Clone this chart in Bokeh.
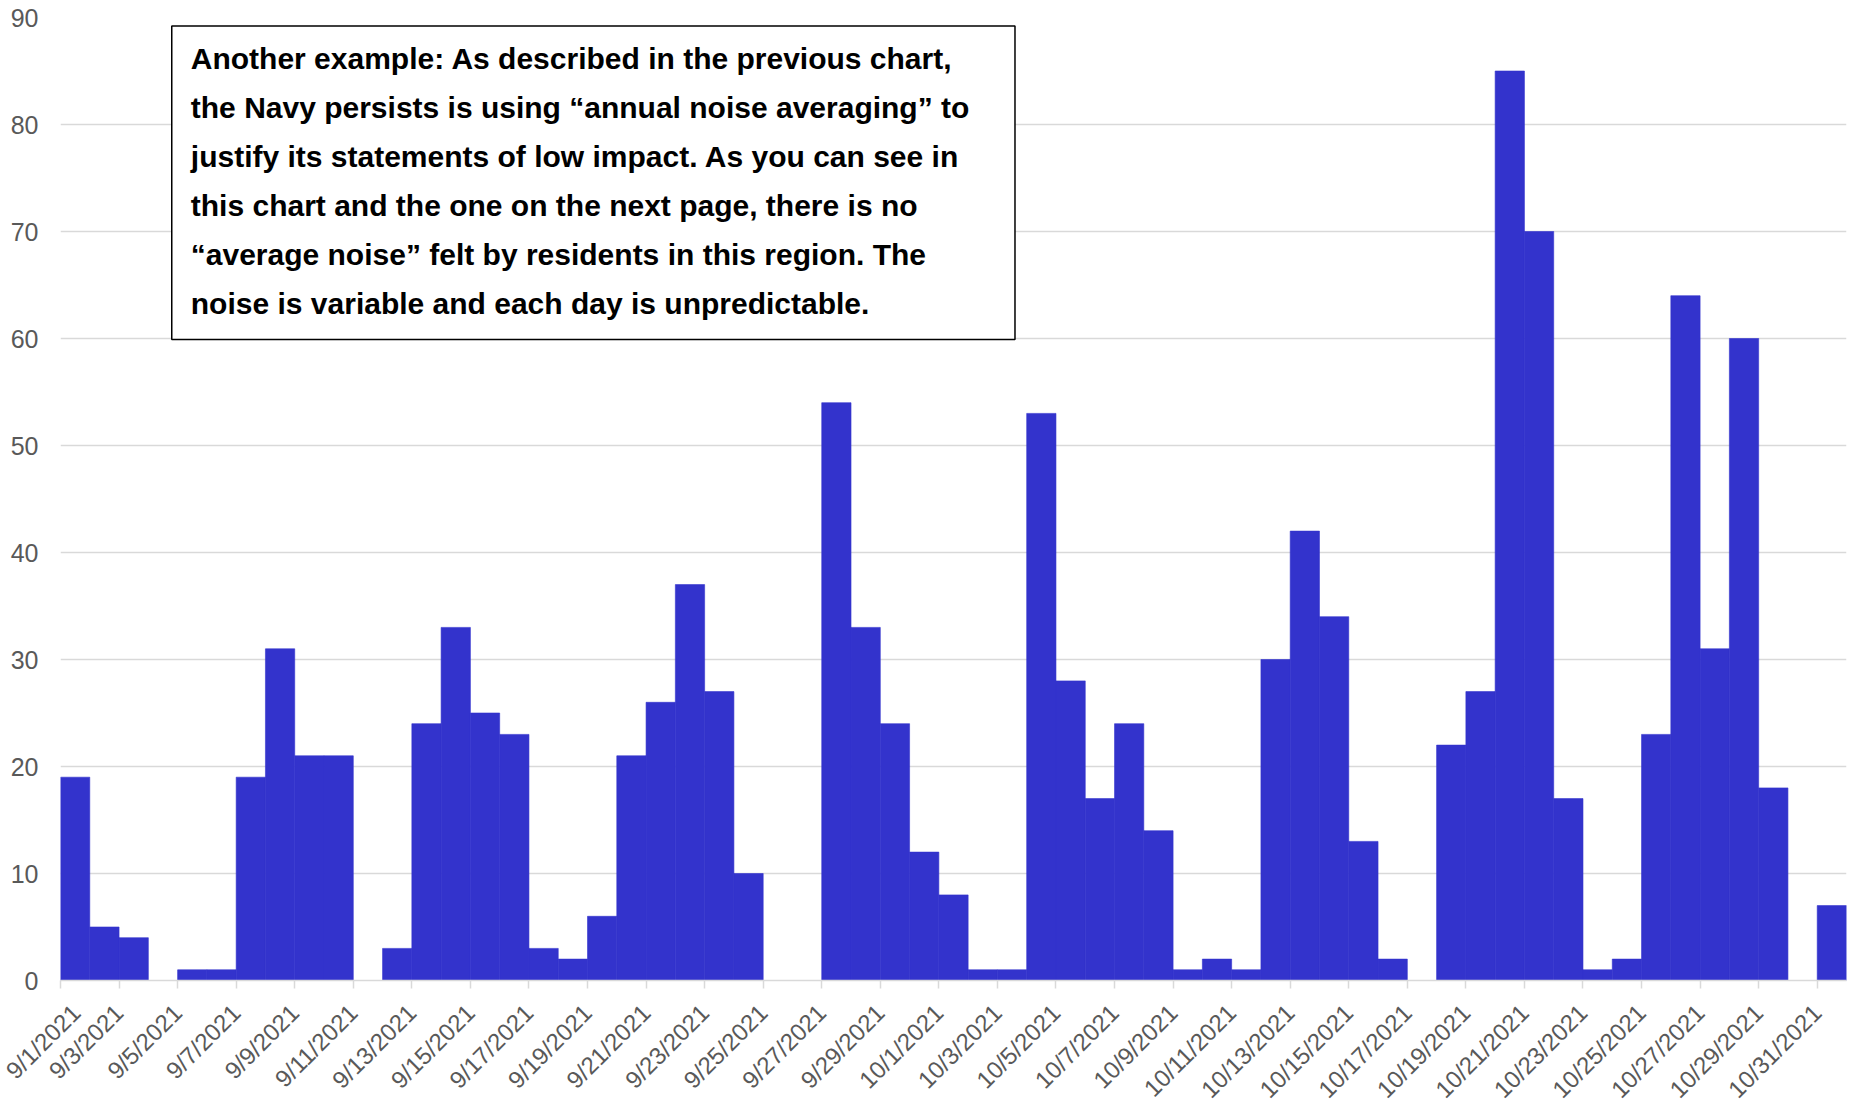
import math
from bokeh.plotting import figure
from bokeh.models import ColumnDataSource, FixedTicker, BoxAnnotation, Range1d, Label
from bokeh.embed import file_html
from bokeh.resources import INLINE

# ---- data -------------------------------------------------------------
dates = [
    "9/1/2021", "9/2/2021", "9/3/2021", "9/4/2021", "9/5/2021", "9/6/2021",
    "9/7/2021", "9/8/2021", "9/9/2021", "9/10/2021", "9/11/2021", "9/12/2021",
    "9/13/2021", "9/14/2021", "9/15/2021", "9/16/2021", "9/17/2021", "9/18/2021",
    "9/19/2021", "9/20/2021", "9/21/2021", "9/22/2021", "9/23/2021", "9/24/2021",
    "9/25/2021", "9/26/2021", "9/27/2021", "9/28/2021", "9/29/2021", "9/30/2021",
    "10/1/2021", "10/2/2021", "10/3/2021", "10/4/2021", "10/5/2021", "10/6/2021",
    "10/7/2021", "10/8/2021", "10/9/2021", "10/10/2021", "10/11/2021", "10/12/2021",
    "10/13/2021", "10/14/2021", "10/15/2021", "10/16/2021", "10/17/2021", "10/18/2021",
    "10/19/2021", "10/20/2021", "10/21/2021", "10/22/2021", "10/23/2021", "10/24/2021",
    "10/25/2021", "10/26/2021", "10/27/2021", "10/28/2021", "10/29/2021", "10/30/2021",
    "10/31/2021",
]
counts = [
    19, 5, 4, 0, 1, 1,
    19, 31, 21, 21, 0, 3,
    24, 33, 25, 23, 3, 2,
    6, 21, 26, 37, 27, 10,
    0, 0, 54, 33, 24, 12,
    8, 1, 1, 53, 28, 17,
    24, 14, 1, 2, 1, 30,
    42, 34, 13, 2, 0, 22,
    27, 85, 70, 17, 1, 2,
    23, 64, 31, 60, 18, 0,
    7,
]
y_ticks = [0, 10, 20, 30, 40, 50, 60, 70, 80, 90]
note_lines = [
    "Another example: As described in the previous chart,",
    "the Navy persists is using \u201cannual noise averaging\u201d to",
    "justify its statements of low impact. As you can see in",
    "this chart and the one on the next page, there is no",
    "\u201caverage noise\u201d felt by residents in this region. The",
    "noise is variable and each day is unpredictable.",
]

# ---- figure -----------------------------------------------------------
FONT = "Liberation Sans"
LABEL_GREY = "#595959"
GRID_GREY = "#d9d9d9"
BAR = "#3333cc"

n = len(dates)
idx = list(range(n))
src = ColumnDataSource(dict(x=[i + 0.5 for i in idx], top=counts, date=dates))

p = figure(
    frame_width=1786, frame_height=963,
    x_range=Range1d(0, n), y_range=Range1d(0, 90),
    output_backend="svg", toolbar_location=None, tools="",
    min_border_left=60, min_border_right=8, min_border_top=17, min_border_bottom=112,
    background_fill_color="white", border_fill_color="white",
)
p.outline_line_color = None

p.vbar(x="x", top="top", width=1.0, source=src, fill_color=BAR,
       line_color=BAR, line_width=0.6)

# y axis
p.yaxis.ticker = FixedTicker(ticks=y_ticks)
p.yaxis.axis_line_color = None
p.yaxis.major_tick_line_color = None
p.yaxis.major_tick_out = 0
p.yaxis.major_tick_in = 0
p.yaxis.minor_tick_line_color = None
p.yaxis.major_label_text_font = FONT
p.yaxis.major_label_text_font_size = "25px"
p.yaxis.major_label_text_color = LABEL_GREY
p.yaxis.major_label_standoff = 22

# x axis
xt = list(range(0, n, 2))
p.xaxis.ticker = FixedTicker(ticks=xt)
p.xaxis.major_label_overrides = {i: dates[i] for i in xt}
p.xaxis.major_label_orientation = math.pi / 4
p.xaxis.axis_line_color = GRID_GREY
p.xaxis.axis_line_width = 1.5
p.xaxis.major_tick_line_color = GRID_GREY
p.xaxis.major_tick_line_width = 1.5
p.xaxis.major_tick_out = 8
p.xaxis.major_tick_in = 0
p.xaxis.minor_tick_line_color = None
p.xaxis.major_label_text_font = FONT
p.xaxis.major_label_text_font_size = "24px"
p.xaxis.major_label_text_color = LABEL_GREY
p.xaxis.major_label_standoff = 20

p.xgrid.grid_line_color = None
p.ygrid.grid_line_color = GRID_GREY
p.ygrid.grid_line_width = 1.5

# annotation box
box = BoxAnnotation(left=3.8, right=32.6, top=89.2, bottom=59.9,
                    fill_color="white", fill_alpha=1.0,
                    line_color="black", line_width=1.5, line_alpha=1.0)
p.add_layout(box)

top_line_y = 86.2
step = 4.58
for k, line in enumerate(note_lines):
    p.add_layout(Label(x=4.45, y=top_line_y - k * step, text=line,
                       text_font=FONT, text_font_style="bold",
                       text_font_size="30px", text_color="black",
                       text_baseline="middle", text_align="left"))

html = file_html(p, INLINE)
open("out.html", "w").write(html)
